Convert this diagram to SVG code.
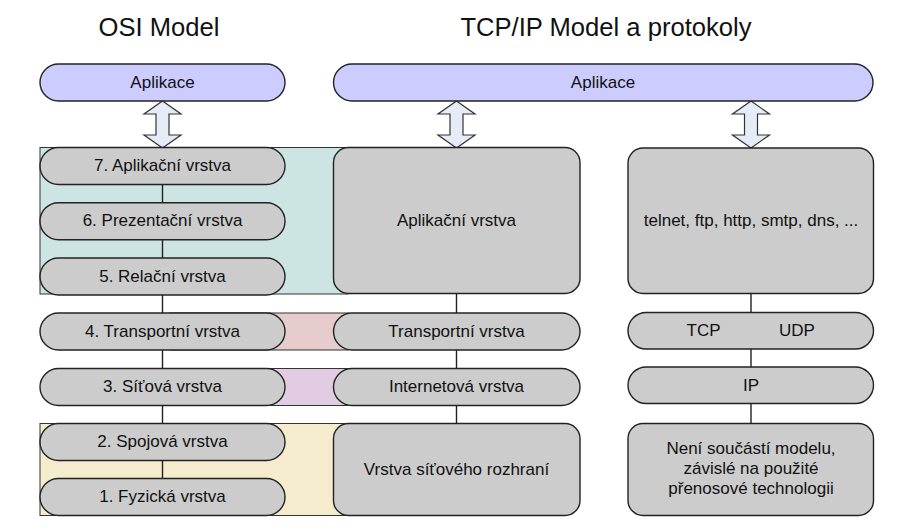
<svg xmlns="http://www.w3.org/2000/svg" xmlns:xlink="http://www.w3.org/1999/xlink" width="907" height="531" viewBox="0 0 907 531">
<style>
text{font-family:"Liberation Sans",Arial,sans-serif;font-size:17px;fill:#111;text-anchor:middle}
.title{font-size:25.6px}
.pill{fill:#cccccc;stroke:#222;stroke-width:1.4}
.app{fill:#ccccff;stroke:#222;stroke-width:1.4}
.band{stroke:#333;stroke-width:1}
.line{stroke:#222;stroke-width:1.4;fill:none}
.arr{fill:#e6ecf7;stroke:#333;stroke-width:1.2}
</style>
<defs>
<path id="dbl" d="M0,101 L18.5,114 L6.5,114 L6.5,135 L18.5,135 L0,148 L-18.5,135 L-6.5,135 L-6.5,114 L-18.5,114 Z"/>
</defs>
<rect width="907" height="531" fill="#fff"/>
<text class="title" x="159" y="36">OSI Model</text>
<text class="title" x="606" y="36">TCP/IP Model a protokoly</text>

<g id="bands">
<rect class="band" x="40" y="147.5" width="308" height="146.5" fill="#cce5e3"/>
<rect class="band" x="170" y="313" width="178" height="37" fill="#e6cccc"/>
<rect class="band" x="170" y="368.5" width="178" height="37" fill="#e2cce4"/>
<rect class="band" x="40" y="423.5" width="308" height="92" fill="#f5ebcd"/>
</g>

<g id="connectors">
<line class="line" x1="162.5" y1="165" x2="162.5" y2="497"/>
<line class="line" x1="456.5" y1="293" x2="456.5" y2="424"/>
<line class="line" x1="751" y1="293" x2="751" y2="424"/>
<use href="#dbl" class="arr" transform="translate(162.5,0)"/>
<use href="#dbl" class="arr" transform="translate(456.5,0)"/>
<use href="#dbl" class="arr" transform="translate(751,0)"/>
</g>

<g id="osi-app"><rect class="app" x="40" y="64" width="245" height="37" rx="18.5"/><text x="162.5" y="88">Aplikace</text></g>
<g id="tcp-app"><rect class="app" x="333.5" y="64" width="539.5" height="37" rx="18.5"/><text x="603" y="88">Aplikace</text></g>

<g id="osi7"><rect class="pill" x="40" y="147.5" width="245" height="37" rx="18.5"/><text x="162.5" y="171">7. Aplikační vrstva</text></g>
<g id="osi6"><rect class="pill" x="40" y="202.7" width="245" height="37" rx="18.5"/><text x="162.5" y="226.2">6. Prezentační vrstva</text></g>
<g id="osi5"><rect class="pill" x="40" y="258" width="245" height="37" rx="18.5"/><text x="162.5" y="281.5">5. Relační vrstva</text></g>
<g id="osi4"><rect class="pill" x="40" y="313" width="245" height="37" rx="18.5"/><text x="162.5" y="336.5">4. Transportní vrstva</text></g>
<g id="osi3"><rect class="pill" x="40" y="368.5" width="245" height="37" rx="18.5"/><text x="162.5" y="392">3. Síťová vrstva</text></g>
<g id="osi2"><rect class="pill" x="40" y="423.5" width="245" height="37" rx="18.5"/><text x="162.5" y="447">2. Spojová vrstva</text></g>
<g id="osi1"><rect class="pill" x="40" y="478.5" width="245" height="37" rx="18.5"/><text x="162.5" y="502">1. Fyzická vrstva</text></g>

<g id="tcp-app-layer"><rect class="pill" x="333.5" y="147.5" width="246.5" height="146" rx="15"/><text x="456.5" y="225.5">Aplikační vrstva</text></g>
<g id="tcp-transport"><rect class="pill" x="333.5" y="313" width="246.5" height="37" rx="18.5"/><text x="456.5" y="336.5">Transportní vrstva</text></g>
<g id="tcp-internet"><rect class="pill" x="333.5" y="368.5" width="246.5" height="37" rx="18.5"/><text x="456.5" y="392">Internetová vrstva</text></g>
<g id="tcp-link"><rect class="pill" x="333.5" y="423.5" width="246.5" height="92" rx="15"/><text x="456.5" y="475">Vrstva síťového rozhraní</text></g>

<g id="proto-app"><rect class="pill" x="628" y="148" width="245.5" height="145.5" rx="15"/><text x="751" y="225.5">telnet, ftp, http, smtp, dns, ...</text></g>
<g id="proto-transport"><rect class="pill" x="628" y="312.5" width="245.5" height="36.5" rx="18.2"/><text x="703.5" y="336">TCP</text><text x="797" y="336">UDP</text></g>
<g id="proto-ip"><rect class="pill" x="628" y="367" width="245.5" height="36.5" rx="18.2"/><text x="751" y="390.5">IP</text></g>
<g id="proto-link"><rect class="pill" x="628" y="423.5" width="245.5" height="92" rx="15"/>
<text x="751" y="453.5">Není součástí modelu,</text>
<text x="751" y="473.5">závislé na použité</text>
<text x="751" y="493.5">přenosové technologii</text></g>
</svg>
